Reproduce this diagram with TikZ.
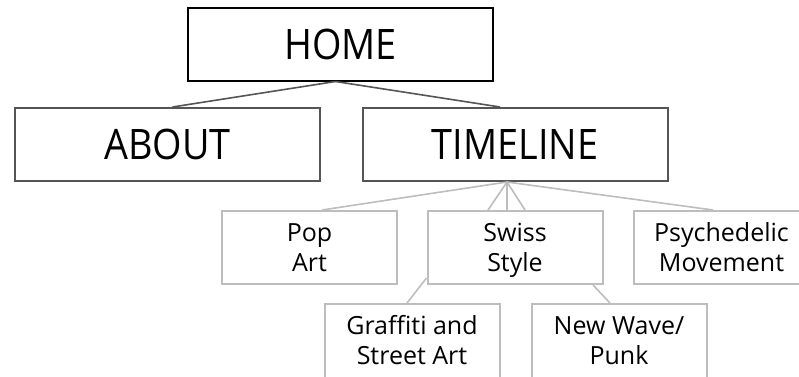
\documentclass[tikz,border=0pt]{standalone}
\usepackage{fontspec}
\setmainfont{Open Sans}
\newfontfamily\bigfont[FakeStretch=0.9]{Open Sans}
\usetikzlibrary{calc}
\definecolor{darkbox}{HTML}{555555}
\definecolor{lightbox}{HTML}{BDBDBD}
\tikzset{
  topbox/.style={draw=black, line width=2pt, minimum width=305pt, minimum height=73pt, inner sep=0pt, text height=30pt, text depth=0pt, font=\bigfont\fontsize{42}{48}\selectfont},
  midbox/.style={draw=darkbox, line width=2pt, minimum width=305pt, minimum height=73pt, inner sep=0pt, text height=30pt, text depth=0pt, font=\bigfont\fontsize{42}{48}\selectfont},
  leafbox/.style={draw=lightbox, line width=2pt, minimum width=175pt, minimum height=73pt, inner sep=0pt, align=center, text height=47.9pt, text depth=0pt, font=\fontsize{25}{30}\selectfont},
  lowbox/.style={leafbox, minimum height=85pt, text depth=11pt},
  darklink/.style={draw=darkbox, line width=1.6pt},
  lightlink/.style={draw=lightbox, line width=1.6pt},
}
\begin{document}
\begin{tikzpicture}[x=1pt, y=-1pt]
\path[use as bounding box, clip] (0,0) rectangle (799,376);
\node[topbox] (home) at (340.5,44) {HOME};
\node[midbox] (about) at (167.5,144.5) {ABOUT};
\node[midbox] (timeline) at (515,144.5) {TIMELINE};
\node[leafbox] (pop) at (309.5,247.5) {Pop\\Art};
\node[leafbox] (swiss) at (515,247.5) {Swiss\\Style};
\node[leafbox] (psych) at (721.5,247.5) {Psychedelic\\Movement};
\node[lowbox] (graffiti) at (412,346.5) {Graffiti and\\Street Art};
\node[lowbox] (newwave) at (619,346.5) {New Wave/\\Punk};
\draw[darklink] ([xshift=-5pt]home.south) -- ([xshift=5pt]about.north);
\draw[darklink] ([xshift=-5pt]home.south) -- ([xshift=-15pt]timeline.north);
\draw[lightlink] ([xshift=-8pt]timeline.south) -- ([xshift=12.5pt]pop.north);
\draw[lightlink] ([xshift=-8pt]timeline.south) -- ([xshift=-27pt]swiss.north);
\draw[lightlink] ([xshift=-8pt]timeline.south) -- ([xshift=-8pt]swiss.north);
\draw[lightlink] ([xshift=-8pt]timeline.south) -- ([xshift=10pt]swiss.north);
\draw[lightlink] ([xshift=-8pt]timeline.south) -- ([xshift=-8.5pt]psych.north);
\draw[lightlink] ([yshift=7pt]swiss.south west) -- ([xshift=-5pt]graffiti.north);
\draw[lightlink] ([xshift=78pt]swiss.south) -- ([xshift=-9pt]newwave.north);
\end{tikzpicture}
\end{document}
